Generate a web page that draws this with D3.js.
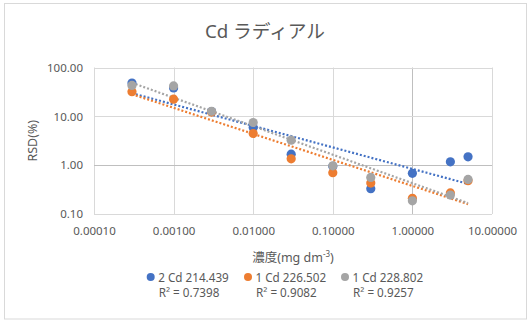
<!DOCTYPE html>
<html>
<head>
<meta charset="utf-8">
<script src="https://cdn.jsdelivr.net/npm/d3@7"></script>
<style>
  html, body { margin: 0; padding: 0; background: #fff; }
  svg { display: block; }
  text { font-family: "Noto Sans", "Noto Sans CJK JP", sans-serif; fill: #595959; }
</style>
</head>
<body>
<svg id="chart" width="529" height="322"></svg>
<script>
// Concentrations (mg dm-3) shared by all three emission lines
const concentrations = [0.0003, 0.001, 0.003, 0.01, 0.03, 0.1, 0.3, 1, 3, 5];

// RSD (%) per emission line
const rsd214 = [48, 38, 12.5, 5.9, 1.68, 0.95, 0.33, 0.68, 1.17, 1.48];
const rsd226 = [32, 22.5, 12.2, 4.45, 1.35, 0.70, 0.43, 0.21, 0.27, 0.48];
const rsd228 = [43, 42, 12.7, 7.47, 3.25, 0.97, 0.56, 0.186, 0.244, 0.51];

const seriesNames = ["2 Cd 214.439", "1 Cd 226.502", "1 Cd 228.802"];
const rSquaredLabels = ["R\u00B2 = 0.7398", "R\u00B2 = 0.9082", "R\u00B2 = 0.9257"];
const seriesColors = ["#4472C4", "#ED7D31", "#A5A5A5"];

const xTicks = [0.0001, 0.001, 0.01, 0.1, 1, 10];
const yTicks = [0.1, 1, 10, 100];

const series = [rsd214, rsd226, rsd228].map((vals, i) => ({
  name: seriesNames[i],
  r2: rSquaredLabels[i],
  color: seriesColors[i],
  points: concentrations.map((c, j) => ({ x: c, y: vals[j] }))
}));

const svg = d3.select("#chart");

// chart frame
svg.append("rect")
  .attr("x", 4.5).attr("y", 3.5)
  .attr("width", 522).attr("height", 315.5)
  .attr("fill", "#fff").attr("stroke", "#D9D9D9").attr("stroke-width", 1);

const plot = { left: 94, right: 492, top: 67.5, bottom: 214 };

const x = d3.scaleLog().domain([0.0001, 10]).range([plot.left, plot.right]);
const y = d3.scaleLog().domain([0.1, 100]).range([plot.bottom, plot.top]);

// gridlines
const grid = svg.append("g");
grid.selectAll(".gx").data(xTicks).join("line")
  .attr("x1", d => Math.round(x(d)) + 0.5).attr("x2", d => Math.round(x(d)) + 0.5)
  .attr("y1", plot.top).attr("y2", plot.bottom)
  .attr("stroke", d => d === 1 ? "#BFBFBF" : "#D9D9D9").attr("stroke-width", 1);
grid.selectAll(".gy").data(yTicks).join("line")
  .attr("x1", plot.left).attr("x2", plot.right)
  .attr("y1", d => Math.round(y(d)) + 0.5).attr("y2", d => Math.round(y(d)) + 0.5)
  .attr("stroke", d => d === 1 ? "#BFBFBF" : "#D9D9D9").attr("stroke-width", 1);

// axes (labels only, lines come from the grid)
const xAxis = d3.axisBottom(x).tickValues(xTicks).tickFormat(d3.format(".5f")).tickSize(0).tickPadding(13);
const gx = svg.append("g").attr("transform", `translate(0,${plot.bottom})`).call(xAxis);
gx.select(".domain").remove();
gx.selectAll("text").attr("font-size", "11.5px").attr("fill", "#595959")
  .style("font-family", "'Noto Sans', sans-serif");

const yAxis = d3.axisLeft(y).tickValues(yTicks).tickFormat(d3.format(".2f")).tickSize(0).tickPadding(11);
const gy = svg.append("g").attr("transform", `translate(${plot.left},0)`).call(yAxis);
gy.select(".domain").remove();
gy.selectAll("text").attr("font-size", "11.5px").attr("fill", "#595959")
  .style("font-family", "'Noto Sans', sans-serif");

// power-law trendlines: least squares on log10(x), log10(y)
function powerFit(pts) {
  const lx = pts.map(p => Math.log10(p.x)), ly = pts.map(p => Math.log10(p.y));
  const mx = d3.mean(lx), my = d3.mean(ly);
  const sxy = d3.sum(lx, (v, i) => (v - mx) * (ly[i] - my));
  const sxx = d3.sum(lx, v => (v - mx) * (v - mx));
  const b = sxy / sxx, a = my - b * mx;
  return xv => Math.pow(10, a + b * Math.log10(xv));
}

const line = d3.line().x(d => x(d.x)).y(d => y(d.y));
series.forEach(s => {
  const f = powerFit(s.points);
  const xs = d3.extent(s.points, p => p.x);
  const samples = d3.range(0, 41).map(i => {
    const xv = Math.pow(10, Math.log10(xs[0]) + i / 40 * (Math.log10(xs[1]) - Math.log10(xs[0])));
    return { x: xv, y: f(xv) };
  });
  svg.append("path").datum(samples)
    .attr("d", line).attr("fill", "none")
    .attr("stroke", s.color).attr("stroke-width", 2.2)
    .attr("stroke-dasharray", "2,2");
});

// markers
series.forEach(s => {
  svg.append("g").selectAll("circle").data(s.points).join("circle")
    .attr("cx", d => x(d.x)).attr("cy", d => y(d.y)).attr("r", 4.6)
    .attr("fill", s.color);
});

// title
svg.append("text")
  .attr("x", 265).attr("y", 38).attr("text-anchor", "middle")
  .attr("font-size", "18.7px")
  .style("font-family", "'Noto Sans', 'Noto Sans CJK JP', sans-serif")
  .text("Cd ラディアル");

// axis titles
const xt = svg.append("text")
  .attr("x", (plot.left + plot.right) / 2).attr("y", 262).attr("text-anchor", "middle")
  .attr("font-size", "12.5px")
  .style("font-family", "'Noto Sans', 'Noto Sans CJK JP', sans-serif");
xt.append("tspan").text("濃度(mg dm");
xt.append("tspan").attr("dy", -5).attr("font-size", "8px").text("-3");
xt.append("tspan").attr("dy", 5).text(")");

svg.append("text")
  .attr("transform", `translate(37,${(plot.top + plot.bottom) / 2}) rotate(-90)`)
  .attr("text-anchor", "middle").attr("font-size", "12.5px")
  .text("RSD(%)");

// legend
const legendX = [150.7, 248, 345];
series.forEach((s, i) => {
  const g = svg.append("g");
  g.append("circle").attr("cx", legendX[i]).attr("cy", 277).attr("r", 4).attr("fill", s.color);
  g.append("text").attr("x", legendX[i] + 7.5).attr("y", 281.5)
    .attr("font-size", "11.7px").text(s.name);
  g.append("text").attr("x", legendX[i] + 8).attr("y", 296.5)
    .attr("font-size", "11.7px").text(s.r2);
});
</script>
</body>
</html>
